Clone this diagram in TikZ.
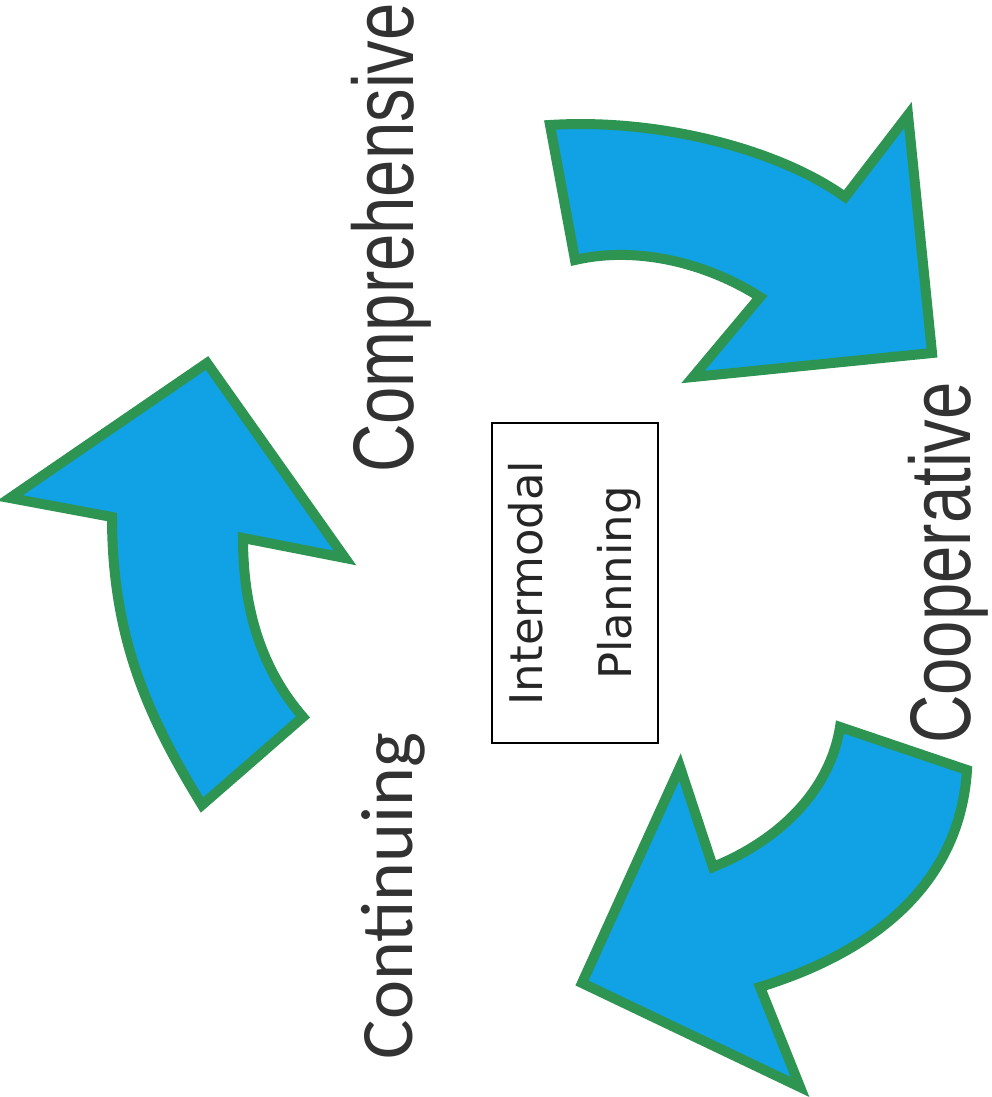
\documentclass[tikz,border=0pt]{standalone}
\usepackage{fontspec}
\setmainfont{Liberation Sans}
\newfontfamily\carlito{Carlito}
\newfontfamily\dejavu{DejaVu Sans}
\definecolor{arrowblue}{RGB}{16,162,228}
\definecolor{arrowgreen}{RGB}{46,148,82}
\definecolor{labelgrey}{RGB}{50,50,50}

\begin{document}
\begin{tikzpicture}
  [x=0.5pt,y=-0.5pt,
   bigarrow/.style={fill=arrowblue,draw=arrowgreen,line width=5pt},
   word/.style={rotate=90,anchor=base,text=labelgrey,inner sep=0pt}]
\useasboundingbox (0,0) rectangle (991,1097);
  % top arrow
  \draw[bigarrow] (550,125) -- (575,260) .. controls (640,245) and (710,265) .. (760,297)
    -- (693,377) -- (932,353) -- (908,115) -- (845,197)
    .. controls (780,150) and (660,118) .. (550,125) -- cycle;
  % left arrow
  \draw[bigarrow] (202,805) .. controls (150,720) and (112,640) .. (112,517)
    -- (10,498) -- (207,363) -- (345,558) -- (243,538)
    .. controls (243,610) and (262,670) .. (303,717) -- cycle;
  % bottom arrow
  \draw[bigarrow] (840,727) -- (967,770) .. controls (960,880) and (880,950) .. (760,987)
    -- (800,1087) -- (582,983) -- (680,767) -- (713,867)
    .. controls (780,840) and (830,790) .. (840,727) -- cycle;

  \node[word,xscale=0.78,font=\fontsize{43}{50}\selectfont] (comp) at (413,238) {Comprehensive};
  \node[word,xscale=0.78,font=\fontsize{43}{50}\selectfont] (coop) at (970,563) {Cooperative};
  \node[word,font=\carlito\fontsize{37}{44}\selectfont] (cont) at (412,896) {Continuing};

  \node[draw,rotate=90,minimum width=160pt,minimum height=83pt,align=center,
        line width=0.8pt,text=black!85,
        font=\dejavu\fontsize{22.5}{44.5}\selectfont] (inter) at (575,583) {Intermodal\\Planning};
\end{tikzpicture}
\end{document}
